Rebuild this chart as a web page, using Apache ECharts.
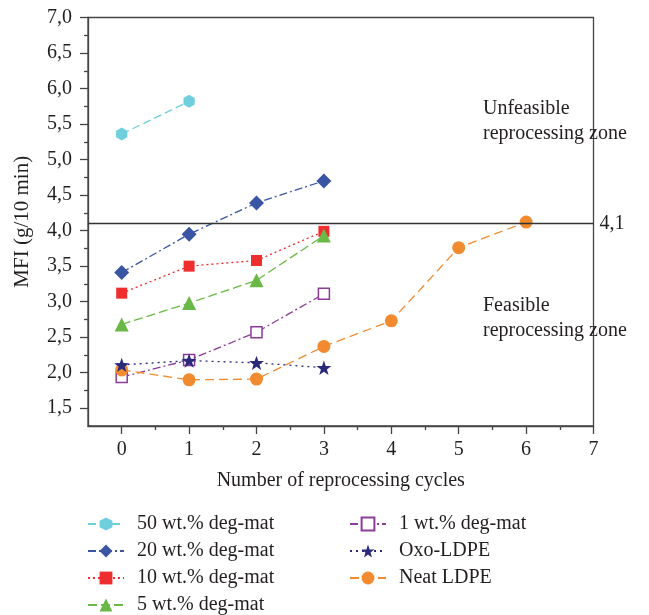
<!DOCTYPE html>
<html><head><meta charset="utf-8">
<script src="https://cdn.jsdelivr.net/npm/echarts@6/dist/echarts.min.js"></script>
<style>html,body{margin:0;padding:0;background:#fff}#c{width:649px;height:615px}</style>
</head><body><div id="c"></div>
<script>
var cycles = [0, 1, 2, 3, 4, 5, 6];
var names = ['50 wt.% deg-mat','20 wt.% deg-mat','10 wt.% deg-mat','5 wt.% deg-mat','1 wt.% deg-mat','Oxo-LDPE','Neat LDPE'];
var mfi50 = [5.36, 5.82];
var mfi20 = [3.41, 3.95, 4.39, 4.70];
var mfi10 = [3.12, 3.50, 3.58, 3.99];
var mfi5 = [2.68, 2.98, 3.30, 3.93];
var mfi1 = [1.94, 2.18, 2.57, 3.11];
var mfiOxo = [2.11, 2.17, 2.14, 2.07];
var mfiNeat = [2.04, 1.90, 1.91, 2.37, 2.73, 3.76, 4.12];
var limitValue = 4.1;
var yLabels = [1.5,2.0,2.5,3.0,3.5,4.0,4.5,5.0,5.5,6.0,6.5,7.0];
var xLabels = [0,1,2,3,4,5,6,7];

var FONT = 'Liberation Serif';
var FS = 20;
var TXT = '#231f20';
var AX = '#444';
var STAR = 'path://M0,-10 L2.35,-3.24 L9.51,-3.09 L3.80,1.24 L5.88,8.09 L0,4 L-5.88,8.09 L-3.80,1.24 L-9.51,-3.09 L-2.35,-3.24 Z';
var HEX = 'path://M0,-10 L8.66,-5 L8.66,5 L0,10 L-8.66,5 L-8.66,-5 Z';

function pairs(vals){ return vals.map(function(v,i){ return [cycles[i], v]; }); }
function fmt(v){ return v.toFixed(1).replace('.', ','); }

var seriesDefs = [
  {vals: mfi50, color:'#6fcfdc', sym: HEX, size: 13, dash:[8,4]},
  {vals: mfi20, color:'#3a55a4', sym:'diamond', size: 15, dash:[8,3,2,3]},
  {vals: mfi10, color:'#ee2e2e', sym:'rect', size: 11, dash:[2,3]},
  {vals: mfi5, color:'#6ab845', sym:'triangle', size: 14, dash:[9,4]},
  {vals: mfi1, color:'#8a3c96', sym:'rect', size: 11, dash:[8,3,2,3], hollow:true},
  {vals: mfiOxo, color:'#2b2a7a', sym: STAR, size: 15, dash:[2,4]},
  {vals: mfiNeat, color:'#f28a30', sym:'circle', size: 13, dash:[9,5]}
];

var series = seriesDefs.map(function(d, i){
  return {
    name: names[i], type:'line', data: pairs(d.vals),
    symbol: d.sym, symbolSize: d.size, symbolKeepAspect: true,
    lineStyle: {color: d.color, width: 1.3, type: d.dash},
    itemStyle: d.hollow ? {color:'#fff', borderColor: d.color, borderWidth: 1.5} : {color: d.color, borderWidth: 0},
    emphasis: {disabled: true}, z: 3 + (i === 5 ? 1 : 0)
  };
});
series.push({
  type:'line', data: [], silent: true,
  markLine: {
    silent: true, symbol: ['none','none'],
    lineStyle: {color:'#333', width: 1.3, type:'solid'},
    label: {show: true, position:'end', formatter: fmt(limitValue), fontFamily: FONT, fontSize: FS, color: TXT, distance: 6},
    data: [{yAxis: limitValue}]
  }
});

var legendText = {fontFamily: FONT, fontSize: FS, color: TXT, padding: [0,0,0,8]};
var option = {
  animation: false,
  grid: {left: 88, right: 55.5, top: 17.5, bottom: 189, show: true, borderColor: AX, borderWidth: 1.3},
  xAxis: [{
    type:'value', min:-0.5, max:7, interval:0.5,
    axisLine: {onZero:false, lineStyle:{color: AX, width:1.3}},
    axisTick: {show:true, length:8, inside:false, lineStyle:{color: AX, width:1.3}, customValues: xLabels},
    axisLabel: {customValues: xLabels, formatter: function(v){ return String(v); }, fontFamily: FONT, fontSize: FS, color: TXT, margin: 14},
    splitLine: {show:false},
    name: 'Number of reprocessing cycles', nameLocation:'middle', nameGap: 45,
    nameTextStyle: {fontFamily: FONT, fontSize: FS, color: TXT}
  },{
    type:'value', min:-0.5, max:7, interval:0.5, position:'bottom',
    axisLine:{show:false, onZero:false}, axisLabel:{show:false}, splitLine:{show:false},
    axisTick:{show:true, length:4, lineStyle:{color: AX, width:1.3}, customValues:[0.5,1.5,2.5,3.5,4.5,5.5,6.5]}
  }],
  yAxis: [{
    type:'value', min:1.25, max:7, interval:0.25,
    axisLine: {show:true, onZero:false, lineStyle:{color: AX, width:1.3}},
    axisTick: {show:true, length:8, lineStyle:{color: AX, width:1.3}, customValues: yLabels},
    axisLabel: {customValues: yLabels, formatter: fmt, fontFamily: FONT, fontSize: FS, color: TXT, margin: 16},
    splitLine: {show:false},
    name: 'MFI (g/10 min)', nameLocation:'middle', nameGap: 55,
    nameTextStyle: {fontFamily: FONT, fontSize: 21, color: TXT}
  },{
    type:'value', min:1.25, max:7, interval:0.25, position:'left',
    axisLine:{show:false, onZero:false}, axisLabel:{show:false}, splitLine:{show:false},
    axisTick:{show:true, length:4, lineStyle:{color: AX, width:1.3}, customValues:[1.75,2.25,2.75,3.25,3.75,4.25,4.75,5.25,5.75,6.25,6.75]}
  }],
  legend: [{
    data: names.slice(0,4), orient:'vertical', left: 82, top: 509, height: 110,
    itemWidth: 36, itemHeight: 16, itemGap: 7, textStyle: legendText, selectedMode:false
  },{
    data: names.slice(4), orient:'vertical', left: 344, top: 509, height: 110,
    itemWidth: 36, itemHeight: 16, itemGap: 7, textStyle: legendText, selectedMode:false
  }],
  graphic: [
    {type:'text', left: 483, top: 96, style:{text:'Unfeasible\nreprocessing zone', font: FS + 'px "Liberation Serif"', fill: TXT, lineHeight: 25}},
    {type:'text', left: 483, top: 293, style:{text:'Feasible\nreprocessing zone', font: FS + 'px "Liberation Serif"', fill: TXT, lineHeight: 25}}
  ],
  series: series
};
var chart = echarts.init(document.getElementById('c'), null, {renderer:'canvas'});
chart.setOption(option);
</script>
</body></html>
